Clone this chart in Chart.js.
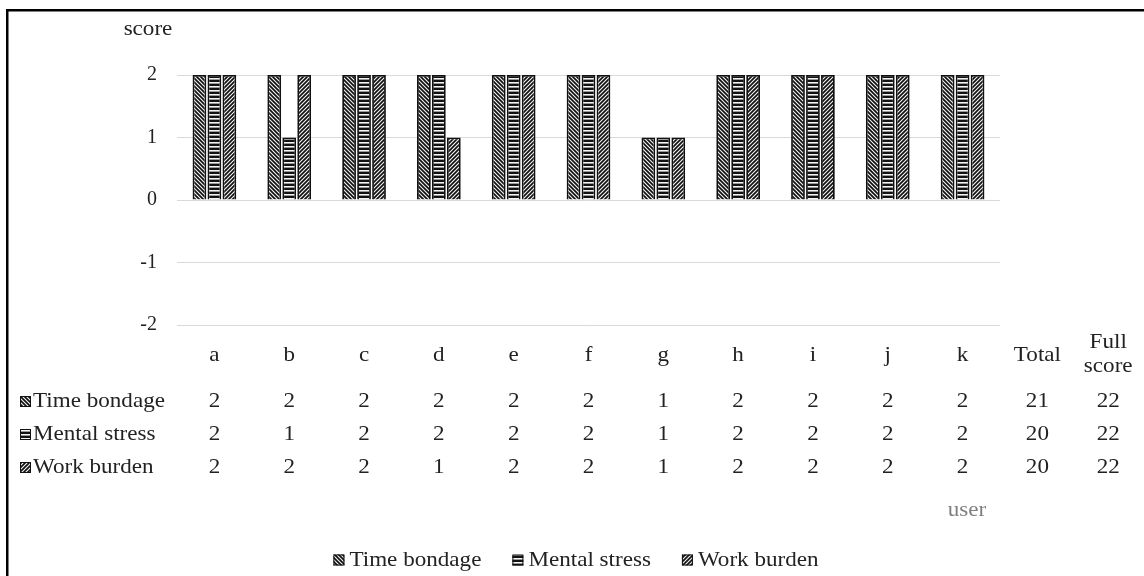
<!DOCTYPE html>
<html>
<head>
<meta charset="utf-8">
<script src="https://cdn.jsdelivr.net/npm/chart.js@4.4.1/dist/chart.umd.min.js"></script>
<style>
  html, body { margin: 0; padding: 0; background: #fff; }
  #wrap { width: 1144px; height: 576px; position: relative; overflow: hidden; }
</style>
</head>
<body>
<div id="wrap"><canvas id="scorechart" width="1144" height="576"></canvas></div>
<script>
// values
const users = ['a', 'b', 'c', 'd', 'e', 'f', 'g', 'h', 'i', 'j', 'k'];
const extraCols = ['Total', 'Full score'];
const seriesNames = ['Time bondage', 'Mental stress', 'Work burden'];
const timeBondage = [2, 2, 2, 2, 2, 2, 1, 2, 2, 2, 2];
const mentalStress = [2, 1, 2, 2, 2, 2, 1, 2, 2, 2, 2];
const workBurden = [2, 2, 2, 1, 2, 2, 1, 2, 2, 2, 2];
const totals = [21, 20, 20];
const fullScores = [22, 22, 22];
const yMin = -2, yMax = 2, yStep = 1;

const serif = '"Liberation Serif", "Times New Roman", serif';
const textColor = '#222';
const stretch = 1.1; // the source picture is a little wider than tall

// hatch fills like the office patterns
function makePattern(kind) {
    const c = document.createElement('canvas');
    c.width = 4; c.height = 4;
    const g = c.getContext('2d');
    g.fillStyle = '#f4f4f4';
    g.fillRect(0, 0, 4, 4);
    g.strokeStyle = '#111';
    g.lineWidth = 1.7;
    g.beginPath();
    if (kind === 'back') {
        g.moveTo(-1, -1); g.lineTo(5, 5);
        g.moveTo(-1, 3); g.lineTo(1, 5);
        g.moveTo(3, -1); g.lineTo(5, 1);
        g.stroke();
    } else if (kind === 'fwd') {
        g.moveTo(-1, 5); g.lineTo(5, -1);
        g.moveTo(-1, 1); g.lineTo(1, -1);
        g.moveTo(3, 5); g.lineTo(5, 3);
        g.stroke();
    } else {
        g.fillStyle = '#111';
        g.fillRect(0, 0, 4, 2);
        g.fillStyle = '#999';
        g.fillRect(0, 3, 4, 1);
    }
    return g.createPattern(c, 'repeat');
}
const fills = [makePattern('back'), makePattern('horiz'), makePattern('fwd')];
const seriesData = [timeBondage, mentalStress, workBurden];

function drawText(ctx, str, x, y, align) {
    ctx.save();
    ctx.translate(x, y);
    ctx.scale(stretch, 1);
    ctx.textAlign = align || 'center';
    ctx.fillText(str, 0, 0);
    ctx.restore();
}

// data table, captions, legend and frame
const tablePlugin = {
    id: 'tablePlugin',
    afterDraw(chart) {
        const ctx = chart.ctx;
        const x = chart.scales.x;
        const step = x.getPixelForValue(1) - x.getPixelForValue(0);
        const colX = users.map((u, i) => x.getPixelForValue(i));
        const lastX = colX[colX.length - 1];
        const totalX = lastX + step;
        const fullX = lastX + 2 * step - 4;

        ctx.save();
        ctx.font = '21px ' + serif;
        ctx.fillStyle = textColor;
        ctx.textBaseline = 'middle';

        // header row
        const headY = 355;
        users.forEach((u, i) => drawText(ctx, u, colX[i], headY));
        drawText(ctx, extraCols[0], totalX, headY);
        const fullParts = extraCols[1].split(' ');
        drawText(ctx, fullParts[0], fullX, 342);
        drawText(ctx, fullParts[1], fullX, 366);

        // value rows
        const rowY = [401, 434, 467];
        seriesNames.forEach((name, r) => {
            const y = rowY[r];
            ctx.fillStyle = fills[r];
            ctx.fillRect(20, y - 5, 11, 11);
            ctx.strokeStyle = '#111';
            ctx.lineWidth = 1;
            ctx.strokeRect(20.5, y - 4.5, 10, 10);
            ctx.fillStyle = textColor;
            drawText(ctx, name, 33, y, 'left');
            seriesData[r].forEach((v, i) => drawText(ctx, String(v), colX[i], y));
            drawText(ctx, String(totals[r]), totalX, y);
            drawText(ctx, String(fullScores[r]), fullX, y);
        });

        // axis captions
        drawText(ctx, 'score', 148, 29);
        ctx.fillStyle = '#7f7f7f';
        drawText(ctx, 'user', 967, 510);

        // legend at the bottom
        const ds = chart.data.datasets;
        const box = 11, gap = 5, spacing = 31;
        const widths = ds.map(d => box + gap + ctx.measureText(d.label).width * stretch);
        const total = widths.reduce((a, b) => a + b, 0) + spacing * (ds.length - 1);
        let lx = 576 - total / 2;
        const ly = 560;
        ds.forEach((d, i) => {
            ctx.fillStyle = d.backgroundColor;
            ctx.fillRect(lx, ly - box / 2, box, box);
            ctx.strokeStyle = '#111';
            ctx.strokeRect(lx + 0.5, ly - box / 2 + 0.5, box - 1, box - 1);
            ctx.fillStyle = textColor;
            drawText(ctx, d.label, lx + box + gap, ly, 'left');
            lx += widths[i] + spacing;
        });

        // outer frame (right and bottom edges fall outside the picture)
        ctx.strokeStyle = '#000';
        ctx.lineWidth = 2.5;
        ctx.strokeRect(7.25, 10.25, 1200, 700);
        ctx.restore();
    }
};

const ctx = document.getElementById('scorechart').getContext('2d');
new Chart(ctx, {
    type: 'bar',
    data: {
        labels: users,
        datasets: seriesNames.map((name, i) => ({
            label: name,
            data: seriesData[i],
            backgroundColor: fills[i],
            borderColor: '#111',
            borderWidth: 1.8
        }))
    },
    options: {
        responsive: false,
        animation: false,
        layout: { padding: { top: 75, right: 144, bottom: 251, left: 0 } },
        datasets: { bar: { categoryPercentage: 0.6, barPercentage: 0.92 } },
        plugins: { legend: { display: false }, tooltip: { enabled: false } },
        scales: {
            x: { display: false },
            y: {
                min: yMin,
                max: yMax,
                ticks: { stepSize: yStep, padding: 20, color: textColor, font: { family: serif, size: 20 } },
                grid: { color: '#d9d9d9', drawTicks: false },
                border: { display: false },
                afterFit(scale) { scale.width = 177; }
            }
        }
    },
    plugins: [tablePlugin]
});
</script>
</body>
</html>
